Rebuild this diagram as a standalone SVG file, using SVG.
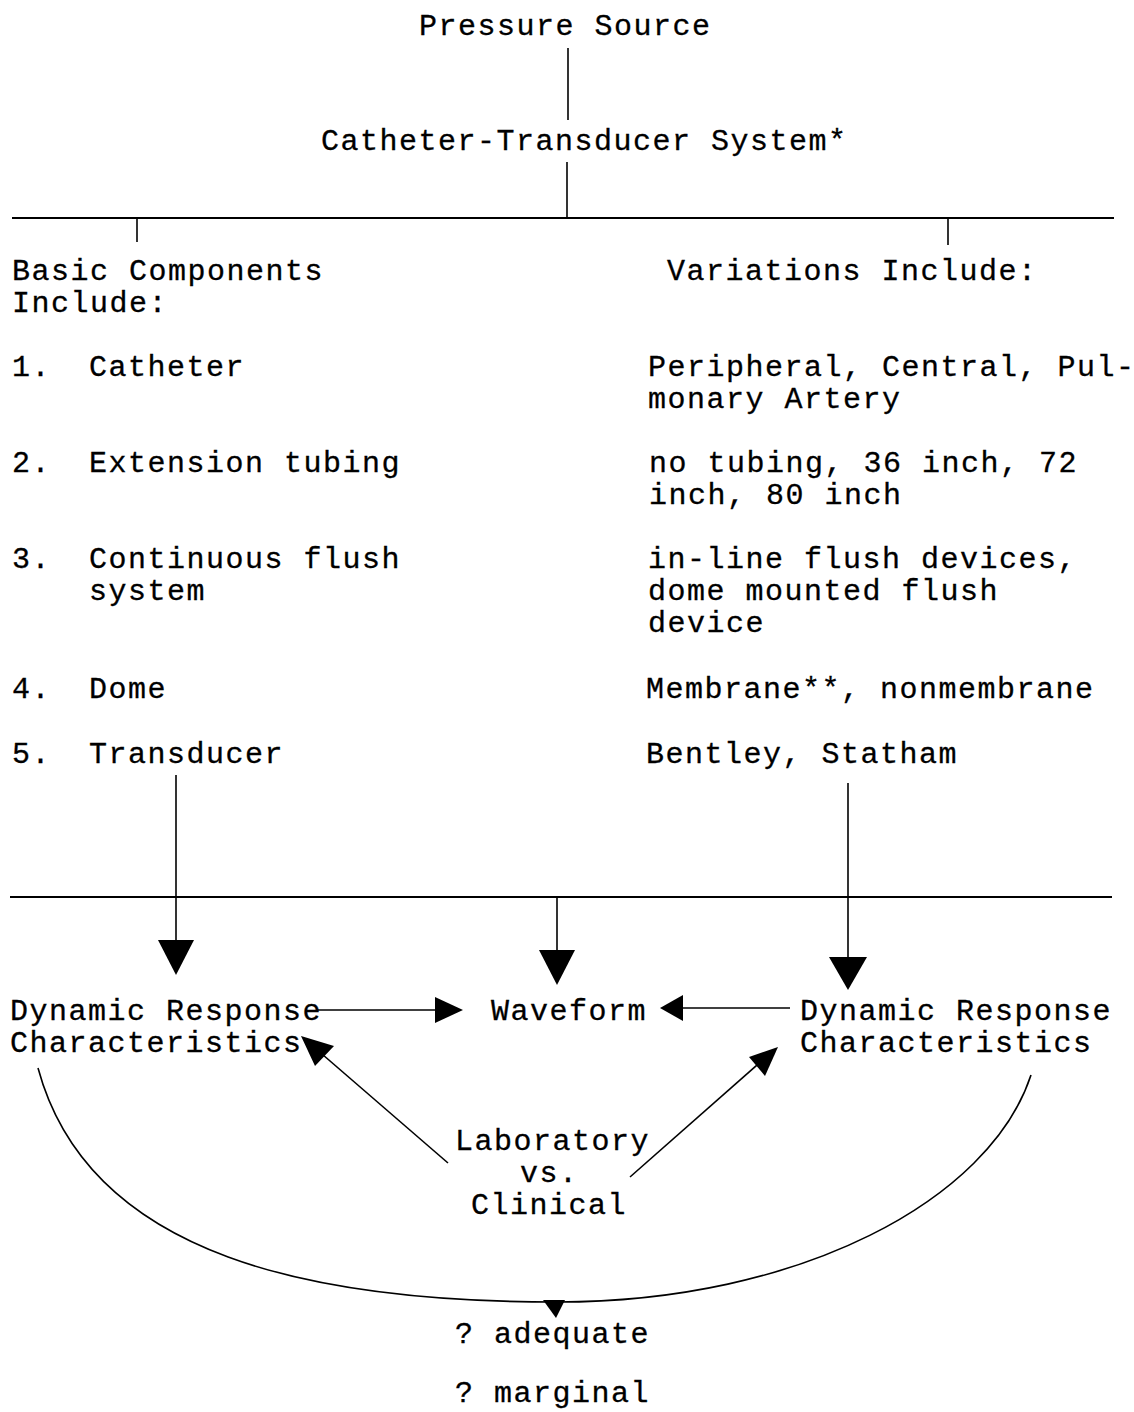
<svg xmlns="http://www.w3.org/2000/svg" width="1134" height="1412" viewBox="0 0 1134 1412">
<style>
text{font-family:"Liberation Mono","Courier New",monospace;font-size:30px;letter-spacing:1.5px;fill:#000;stroke:#000;stroke-width:0.3}
.ln{stroke:#000;stroke-width:2;fill:none}
.thin{stroke:#000;stroke-width:1.6;fill:none}
.ah{fill:#000;stroke:none}
</style>
<rect width="1134" height="1412" fill="#fff"/>
<g id="connectors">
<line class="thin" x1="568" y1="48" x2="568" y2="120"/>
<line class="thin" x1="567" y1="162" x2="567" y2="218"/>
<line class="ln" x1="12" y1="218" x2="1114" y2="218"/>
<line class="thin" x1="137" y1="218" x2="137" y2="242"/>
<line class="thin" x1="948" y1="218" x2="948" y2="245"/>
<line class="ln" x1="10" y1="897" x2="1112" y2="897"/>
<line class="thin" x1="176" y1="775" x2="176" y2="945"/>
<polygon class="ah" points="158,940 194,940 176,975"/>
<line class="thin" x1="848" y1="783" x2="848" y2="960"/>
<polygon class="ah" points="829,957 867,957 848,990"/>
<line class="thin" x1="557" y1="897" x2="557" y2="955"/>
<polygon class="ah" points="539,950 575,950 557,985"/>
<line class="thin" x1="318" y1="1010" x2="440" y2="1010"/>
<polygon class="ah" points="435,997 435,1023 463,1010"/>
<line class="thin" x1="790" y1="1008" x2="680" y2="1008"/>
<polygon class="ah" points="683,995 683,1021 660,1008"/>
<line class="thin" x1="448" y1="1163" x2="315" y2="1048"/>
<polygon class="ah" points="301,1036 334,1046 315,1066"/>
<line class="thin" x1="630" y1="1177" x2="765" y2="1058"/>
<polygon class="ah" points="778,1047 765,1076 749,1057"/>
<path class="thin" d="M38,1068 C90,1260 320,1302 557,1302 C800,1302 990,1200 1031,1075"/>
<polygon class="ah" points="543,1300 565,1300 556,1318"/>
</g>
<g id="n-source"><text x="419" y="35">Pressure Source</text></g>
<g id="n-system"><text x="321" y="150">Catheter-Transducer System*</text></g>
<g id="n-basic"><text x="12" y="280">Basic Components</text><text x="12" y="312">Include:</text></g>
<g id="n-variations"><text x="667" y="280">Variations Include:</text></g>
<g id="n-list">
<text x="12" y="376">1.</text><text x="89" y="376">Catheter</text>
<text x="12" y="472">2.</text><text x="89" y="472">Extension tubing</text>
<text x="12" y="568">3.</text><text x="89" y="568">Continuous flush</text><text x="89" y="600">system</text>
<text x="12" y="698">4.</text><text x="89" y="698">Dome</text>
<text x="12" y="763">5.</text><text x="89" y="763">Transducer</text>
</g>
<g id="n-varlist">
<text x="648" y="376">Peripheral, Central, Pul-</text><text x="648" y="408">monary Artery</text>
<text x="649" y="472">no tubing, 36 inch, 72</text><text x="649" y="504">inch, 80 inch</text>
<text x="648" y="568">in-line flush devices,</text><text x="648" y="600">dome mounted flush</text><text x="648" y="632">device</text>
<text x="646" y="698">Membrane**, nonmembrane</text>
<text x="646" y="763">Bentley, Statham</text>
</g>
<g id="n-dyn-left"><text x="10" y="1020">Dynamic Response</text><text x="10" y="1052">Characteristics</text></g>
<g id="n-waveform"><text x="491" y="1020">Waveform</text></g>
<g id="n-dyn-right"><text x="800" y="1020">Dynamic Response</text><text x="800" y="1052">Characteristics</text></g>
<g id="n-lab"><text x="455" y="1150">Laboratory</text><text x="520" y="1182">vs.</text><text x="471" y="1214">Clinical</text></g>
<g id="n-outcome"><text x="455" y="1343">? adequate</text><text x="455" y="1402">? marginal</text></g>
</svg>
